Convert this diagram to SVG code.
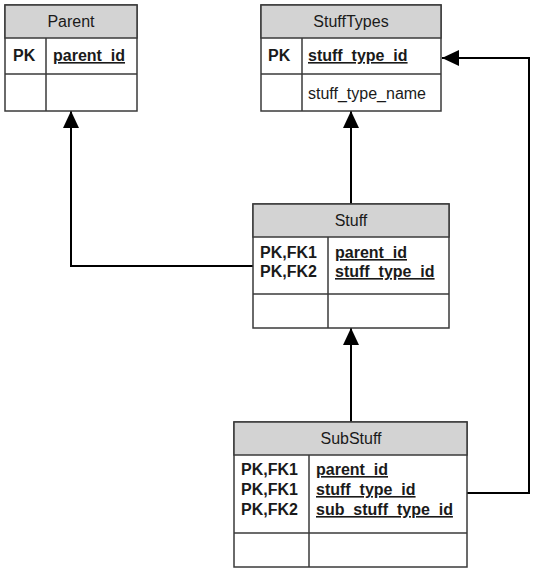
<svg xmlns="http://www.w3.org/2000/svg" width="540" height="572" viewBox="0 0 540 572">
<style>
.box{fill:#fff;stroke:#3a3a3a;stroke-width:1.5}
.hdr{fill:#d3d3d3;stroke:#3a3a3a;stroke-width:1.5}
.ln{stroke:#3a3a3a;stroke-width:1.5}
.t{font-family:"Liberation Sans",Arial,sans-serif;font-size:16px;fill:#1a1a1a}
.h{text-anchor:middle}
.b{font-weight:bold}
.u{text-decoration:underline}
.c{fill:none;stroke:#000;stroke-width:2}
</style>
<defs>
<marker id="ah" markerWidth="17" markerHeight="16" refX="17" refY="8" orient="auto" markerUnits="userSpaceOnUse">
<path d="M0,0 L17,8 L0,16 Z" fill="#000"/>
</marker>
</defs>
<rect width="540" height="572" fill="#fff"/>
<g id="connectors">
<path class="c" d="M253,266 H71 V111" marker-end="url(#ah)"/>
<path class="c" d="M351,204 V111" marker-end="url(#ah)"/>
<path class="c" d="M351,422 V328" marker-end="url(#ah)"/>
<path class="c" d="M467,493 H529 V58 H442" marker-end="url(#ah)"/>
</g>
<g id="Parent">
<rect class="box" x="5" y="5" width="132" height="106"/>
<rect class="hdr" x="5" y="5" width="132" height="33"/>
<line class="ln" x1="5" y1="74" x2="137" y2="74"/>
<line class="ln" x1="46" y1="38" x2="46" y2="111"/>
<text class="t h" x="71" y="27">Parent</text>
<text class="t b" x="13" y="61">PK</text>
<text class="t b u" x="53" y="61">parent_id</text>
</g>
<g id="StuffTypes">
<rect class="box" x="261" y="5" width="180" height="106"/>
<rect class="hdr" x="261" y="5" width="180" height="33"/>
<line class="ln" x1="261" y1="74" x2="441" y2="74"/>
<line class="ln" x1="302" y1="38" x2="302" y2="111"/>
<text class="t h" x="351" y="27">StuffTypes</text>
<text class="t b" x="268" y="61">PK</text>
<text class="t b u" x="308" y="61">stuff_type_id</text>
<text class="t" x="308" y="99">stuff_type_name</text>
</g>
<g id="Stuff">
<rect class="box" x="253" y="204" width="196" height="124"/>
<rect class="hdr" x="253" y="204" width="196" height="33"/>
<line class="ln" x1="253" y1="294" x2="449" y2="294"/>
<line class="ln" x1="328" y1="237" x2="328" y2="328"/>
<text class="t h" x="351" y="226">Stuff</text>
<text class="t b" x="260" y="258">PK,FK1</text>
<text class="t b" x="260" y="277">PK,FK2</text>
<text class="t b u" x="335" y="258">parent_id</text>
<text class="t b u" x="335" y="277">stuff_type_id</text>
</g>
<g id="SubStuff">
<rect class="box" x="234" y="422" width="233" height="145"/>
<rect class="hdr" x="234" y="422" width="233" height="33"/>
<line class="ln" x1="234" y1="533" x2="467" y2="533"/>
<line class="ln" x1="309" y1="455" x2="309" y2="567"/>
<text class="t h" x="351" y="444">SubStuff</text>
<text class="t b" x="241" y="475">PK,FK1</text>
<text class="t b" x="241" y="495">PK,FK1</text>
<text class="t b" x="241" y="515">PK,FK2</text>
<text class="t b u" x="316" y="475">parent_id</text>
<text class="t b u" x="316" y="495">stuff_type_id</text>
<text class="t b u" x="316" y="515">sub_stuff_type_id</text>
</g>
</svg>
